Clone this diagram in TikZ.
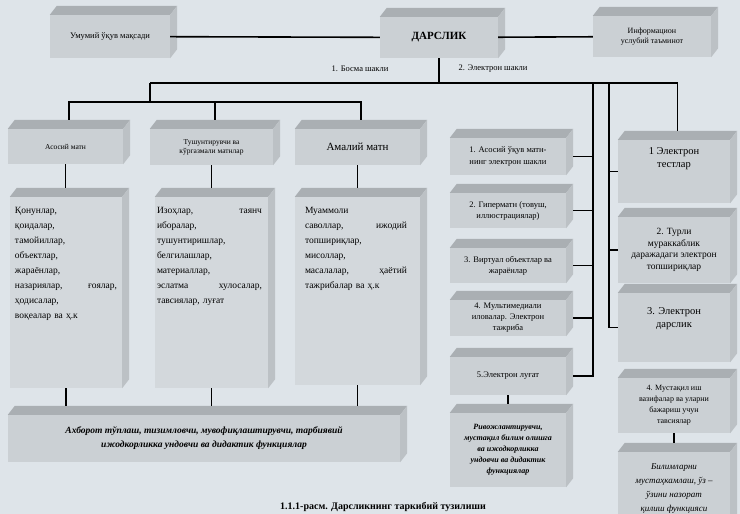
\documentclass[tikz,border=0pt]{standalone}
\usepackage{fontspec}
\setmainfont{Liberation Serif}
\usetikzlibrary{calc}

\definecolor{paper}{RGB}{222,228,233}
\definecolor{faceA}{RGB}{203,208,212}
\definecolor{faceB}{RGB}{211,216,220}
\definecolor{topA}{RGB}{170,175,179}
\definecolor{sideA}{RGB}{188,193,197}

% top and right side of a raised slab, plus a point on its top
\newcommand{\boxtop}[1]{%
  \fill[topA] (#1.north west) -- ++(7,9) -- ([shift={(7,9)}]#1.north east) -- (#1.north east) -- cycle;
  \fill[sideA] (#1.north east) -- ++(7,9) -- ([shift={(7,9)}]#1.south east) -- (#1.south east) -- cycle;
  \coordinate (#1-top) at ([shift={(3.5,9)}]#1.north);
}

\begin{document}
\begin{tikzpicture}[x=1pt,y=1pt,
  slab/.style={fill=faceA, inner sep=0pt, align=center},
  cell/.style={inner sep=0pt, align=left, text width=#1, font=\fontsize{9.5}{15}\selectfont},
  small/.style 2 args={font=\fontsize{#1}{#2}\selectfont},
  link/.style={line width=1.6pt}]

  % page
  \useasboundingbox (0,0) rectangle (740,-514);
  \fill[paper] (0,0) rectangle (740,-514);

  % top row
  \node[slab, small={8.5}{10}, minimum width=120, minimum height=43] (goal) at (110,-36.5) {Умумий ўқув мақсади};
  \node[slab, font=\fontsize{11}{13}\selectfont\bfseries, minimum width=118, minimum height=41] (darslik) at (439,-37.5) {ДАРСЛИК};
  \node[slab, small={8}{10}, minimum width=118, minimum height=41] (info) at (652,-36.5) {Информацион\\услубий таъминот};
  \node[small={8.5}{10}] (print) at (360,-69) {1. Босма шакли};
  \node[small={8.5}{10}] (elec) at (493,-69) {2. Электрон шакли};

  % printed form
  \node[slab, small={7.5}{9}, minimum width=115, minimum height=35] (b1) at (65.5,-146.5) {Асосий матн};
  \node[slab, small={7.5}{9}, minimum width=123, minimum height=36] (b2) at (211.5,-147) {Тушунтирувчи ва\\кўргазмали матнлар};
  \node[slab, small={11}{13}, minimum width=125, minimum height=36] (b3) at (357.5,-147) {Амалий матн};
  \node[slab, fill=faceB, minimum width=112, minimum height=191] (c1) at (66,-292.5) {};
  \node[slab, fill=faceB, minimum width=113, minimum height=191] (c2) at (211.5,-292.5) {};
  \node[slab, fill=faceB, minimum width=125, minimum height=188] (c3) at (357.5,-291) {};
  \node[slab, font=\fontsize{9.5}{14}\selectfont\bfseries\itshape, minimum width=392, minimum height=47] (bar) at (204,-438.5)
    {Ахборот тўплаш, тизимловчи, мувофиқлаштирувчи, тарбиявий\\ижодкорликка ундовчи ва дидактик функциялар};

  % electronic form
  \node[slab, small={8.5}{12}, minimum width=116, minimum height=37] (m1) at (508,-156.5) {1. Асосий ўқув матн-\\нинг электрон шакли};
  \node[slab, small={8.5}{11}, minimum width=116, minimum height=35] (m2) at (508,-210.5) {2. Гиперматн (товуш,\\иллюстрациялар)};
  \node[slab, small={8.5}{11}, minimum width=116, minimum height=35] (m3) at (508,-265.5) {3. Виртуал объектлар ва\\жараёнлар};
  \node[slab, small={8.5}{11}, minimum width=116, minimum height=36] (m4) at (508,-318) {4. Мультимедиали\\иловалар. Электрон\\тажриба};
  \node[slab, small={8.5}{11}, minimum width=116, minimum height=38] (m5) at (508,-376) {5.Электрон луғат};
  \node[slab, font=\fontsize{8}{11}\selectfont\bfseries\itshape, minimum width=116, minimum height=74] (m6) at (508,-450)
    {Ривожлантирувчи,\\мустақил билим олишга\\ва ижодкорликка\\ундовчи ва дидактик\\функциялар};

  \node[slab, minimum width=112, minimum height=63,
    label={[small={10.5}{13}, align=center, yshift=13]center:{1 Электрон\\тестлар}}] (r1) at (674,-171.5) {};
  \node[slab, small={9.5}{11.5}, minimum width=112, minimum height=66] (r2) at (674,-250) {2. Турли\\мураккаблик\\даражадаги электрон\\топшириқлар};
  \node[slab, minimum width=112, minimum height=69,
    label={[small={10.5}{13}, align=center, yshift=9]center:{3. Электрон\\дарслик}}] (r3) at (674,-327.5) {};
  \node[slab, small={8}{11}, minimum width=112, minimum height=55] (r4) at (674,-405.5) {4. Мустақил иш\\вазифалар ва уларни\\бажариш учун\\тавсиялар};
  \node[slab, font=\fontsize{9}{14}\selectfont\itshape, minimum width=112, minimum height=73] (r5) at (674,-488.5)
    {Билимларни\\мустаҳкамлаш, ўз –\\ўзини назорат\\қилиш функцияси};

  \foreach \bx in {goal,darslik,info,b1,b2,b3,c1,c2,c3,bar,m1,m2,m3,m4,m5,m6,r1,r2,r3,r4,r5}
    {\boxtop{\bx}}

  % lists in the three columns
  \node[cell=102, anchor=north west] (c1txt) at ([shift={(5,-10)}]c1.north west)
    {Қонунлар,\\қоидалар,\\тамойиллар,\\объектлар,\\жараёнлар,\\назариялар,\hfill ғоялар,\\ҳодисалар,\\воқеалар ва ҳ.к};
  \node[cell=105, anchor=north west] (c2txt) at ([shift={(2,-10)}]c2.north west)
    {Изоҳлар,\hfill таянч\\иборалар,\\тушунтиришлар,\\белгилашлар,\\материаллар,\\эслатма\hfill хулосалар,\\тавсиялар, луғат};
  \node[cell=102, anchor=north west] (c3txt) at ([shift={(10,-10)}]c3.north west)
    {Муаммоли\\саволлар,\hfill ижодий\\топшириқлар,\\мисоллар,\\масалалар,\hfill ҳаётий\\тажрибалар ва ҳ.к};

  % connectors
  \coordinate (hub) at (439,-83);
  \coordinate (pfork) at (150,-83);
  \coordinate (pbus) at (150,-102);
  \coordinate (espine) at (593,-83);
  \coordinate (tspine) at (609,-83);
  \begin{scope}[link]
    \draw (goal) -- (darslik);
    \draw (darslik) -- (info);
    \draw (darslik.south) -- (hub);
    \draw (pfork) -| (r1-top);
    \draw (pfork) -- (pbus);
    \draw (b1-top) |- (pbus) -| (b3-top);
    \draw (pbus) -| (b2-top);
    \foreach \bx/\cx in {b1/c1,b2/c2,b3/c3}
      \draw (\bx.south) -- (\bx.south |- \cx-top);
    \foreach \cx in {c1,c2,c3}
      \draw (\cx.south) -- (\cx.south |- bar-top);
    \draw (espine) |- ([xshift=7]m5.east);
    \foreach \bx in {m1,m2,m3,m4}
      \draw ([xshift=7]\bx.east) -- (\bx.east -| espine);
    \draw (m5.south) -- (m5.south |- m6-top);
    \draw (tspine) |- (r3.west);
    \foreach \bx in {r1,r2}
      \draw (\bx.west -| tspine) -- (\bx.west);
    \draw (r4.south) -- (r4.south |- r5-top);
  \end{scope}

  % caption
  \node[font=\fontsize{10}{11}\selectfont\bfseries] (cap) at (383,-507) {1.1.1-расм. Дарсликнинг таркибий тузилиши};
\end{tikzpicture}
\end{document}
